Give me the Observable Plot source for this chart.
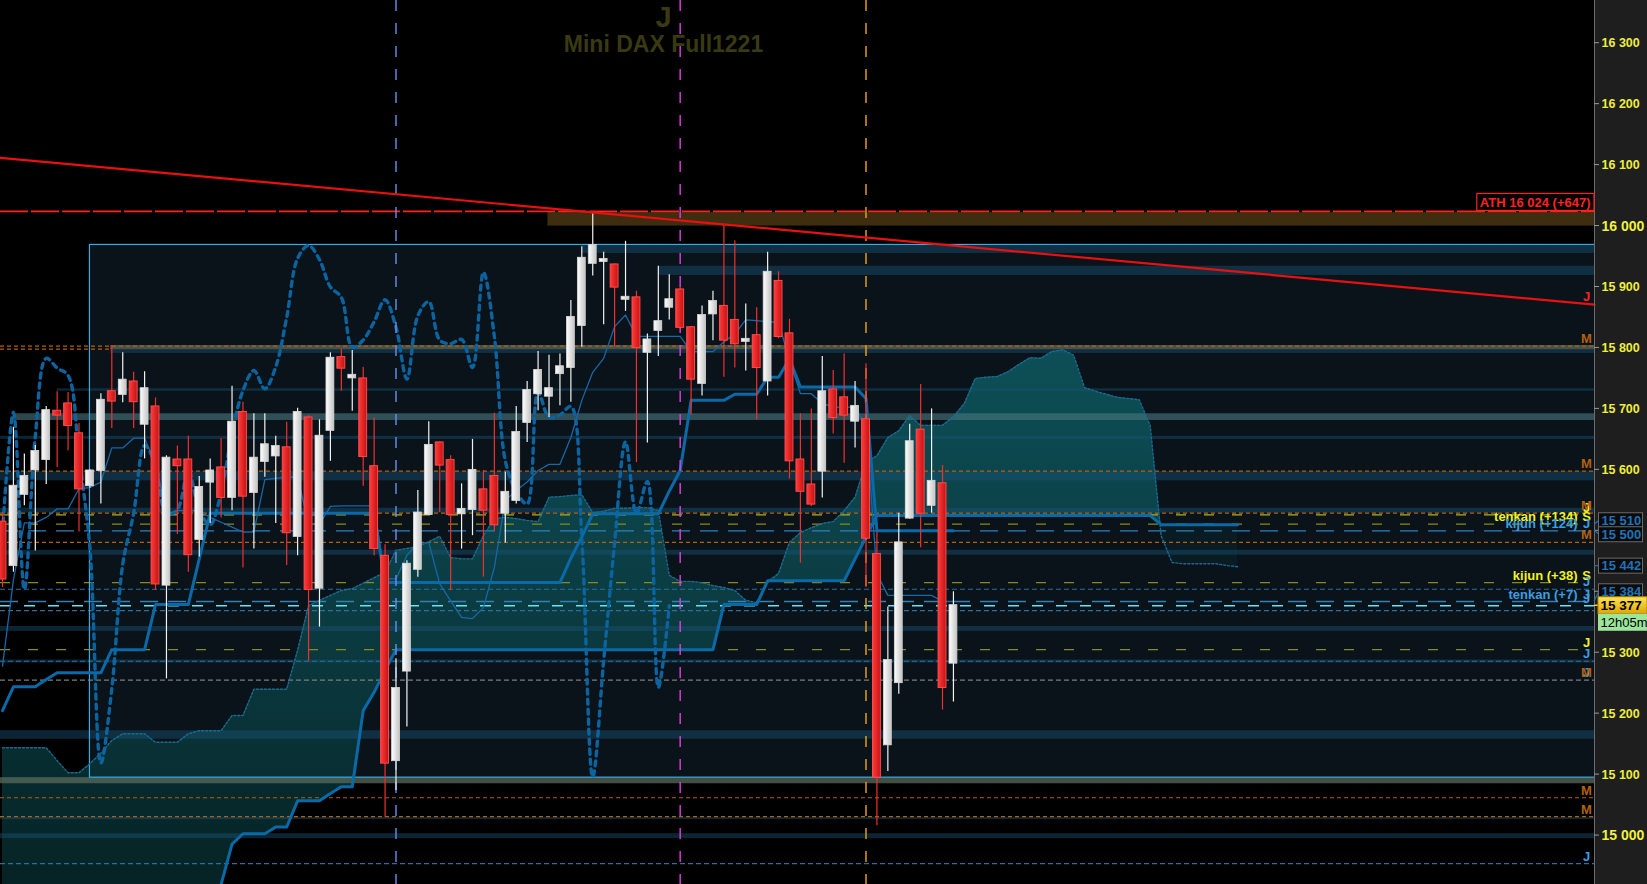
<!DOCTYPE html>
<html><head><meta charset="utf-8">
<script src="https://cdn.jsdelivr.net/npm/d3@7"></script>
<script src="https://cdn.jsdelivr.net/npm/@observablehq/plot@0.6"></script>
<style>
html,body{margin:0;padding:0;background:#000;overflow:hidden}
#chart{width:1647px;height:884px}
</style></head><body><div id="chart"></div>
<script>
// ---------- data ----------
const opens = [15514,15443,15560,15600,15617,15696,15708,15659,15574,15599,
 15728,15724,15744,15675,15703,15411,15616,15616,15486,15580,
 15603,15555,15694,15563,15614,15623,15636,15491,15685,15406,
 15665,15784,15751,15749,15605,15458,15123,15270,15437,15527,
 15644,15615,15528,15535,15567,15589,15529,15550,15678,15725,
 15721,15758,15768,15837,15939,15942,15936,15880,15882,15793,
 15829,15867,15895,15833,15742,15856,15868,15845,15811,15820,
 15746,15909,15823,15616,15575,15598,15731,15718,15680,15682,
 15461,15149,15251,15521,15665,15542,15577,15283];
const highs = [15530,15670,15626,15640,15704,15728,15727,15676,15600,15725,
 15804,15792,15760,15761,15718,15623,15639,15655,15589,15618,
 15651,15737,15711,15692,15692,15655,15678,15701,15689,15682,
 15792,15798,15796,15768,15685,15477,15290,15451,15566,15679,
 15646,15623,15577,15650,15599,15693,15596,15704,15745,15794,
 15788,15790,15878,15966,16020,15957,15938,15975,15893,15823,
 15934,15920,15900,15835,15869,15893,16001,15976,15872,15866,
 15957,15925,15847,15692,15700,15786,15763,15790,15745,15774,
 15498,15375,15529,15675,15740,15700,15607,15400];
const lows = [15407,15432,15541,15467,15576,15604,15631,15498,15570,15544,
 15668,15710,15668,15618,15402,15257,15494,15432,15457,15512,
 15521,15533,15439,15470,15588,15512,15443,15459,15286,15342,
 15614,15729,15696,15573,15459,15030,15074,15178,15424,15525,
 15530,15402,15470,15492,15424,15498,15480,15544,15645,15697,
 15686,15705,15711,15801,15918,15838,15801,15860,15612,15644,
 15786,15846,15831,15689,15721,15812,15752,15767,15762,15682,
 15721,15815,15585,15447,15540,15554,15659,15611,15636,15407,
 15016,15105,15232,15519,15472,15529,15206,15219];
const closes = [15421,15573,15589,15630,15697,15690,15673,15569,15598,15714,
 15713,15747,15712,15733,15413,15619,15607,15461,15571,15598,
 15555,15678,15557,15619,15641,15638,15497,15694,15404,15655,
 15783,15767,15755,15622,15471,15119,15241,15445,15529,15640,
 15608,15527,15535,15599,15534,15510,15563,15661,15730,15763,
 15733,15769,15850,15947,15968,15945,15900,15883,15801,15813,
 15843,15879,15834,15749,15853,15876,15813,15807,15814,15768,
 15924,15819,15615,15565,15544,15728,15686,15690,15704,15488,
 15096,15287,15480,15646,15529,15581,15243,15377];
const tenkan = [15278,15420,15513,15513,15522,15536,15536,15569,15571,15580,
 15636,15636,15652,15652,15610,15528,15533,15533,15533,15522,
 15514,15506,15498,15498,15584,15586,15588,15588,15511,15511,
 15540,15541,15541,15541,15541,15421,15421,15460,15479,15481,
 15413,15385,15358,15356,15374,15440,15550,15566,15580,15599,
 15609,15609,15653,15714,15760,15783,15835,15854,15819,15819,
 15819,15819,15819,15794,15794,15794,15810,15823,15846,15845,
 15843,15842,15780,15725,15725,15709,15703,15703,15703,15673,
 15430,15394,15394,15394,15394,15394,15384,15384];
const kijun = [15205,15244,15244,15244,15256,15267,15267,15267,15267,15267,
 15305,15305,15305,15305,15379,15379,15379,15379,15454,15529,
 15529,15529,15529,15529,15529,15529,15529,15529,15529,15529,
 15529,15529,15529,15529,15529,15415,15415,15415,15415,15415,
 15415,15415,15415,15415,15415,15415,15415,15415,15415,15415,
 15415,15415,15455,15490,15528,15528,15528,15528,15528,15528,
 15528,15565,15599,15714,15714,15714,15714,15724,15724,15724,
 15752,15752,15782,15736,15736,15736,15736,15736,15736,15717,
 15500,15500,15500,15500,15500,15500,15500,15500];
const senkouA = [15144,15144,15144,15144,15144,15123,15103,15103,15118,15135,
 15156,15167,15167,15167,15153,15153,15153,15167,15172,15172,
 15172,15197,15197,15240,15240,15240,15240,15304,15377,15386,
 15394,15402,15405,15414,15423,15432,15468,15471,15474,15482,
 15491,15456,15454,15454,15492,15520,15522,15520,15517,15515,
 15555,15556,15558,15559,15530,15532,15537,15537,15538,15538,
 15533,15427,15417,15417,15415,15410,15407,15402,15386,15382,
 15415,15430,15481,15497,15505,15512,15515,15533,15555,15612,
 15623,15653,15664,15689,15673,15673,15673,15687,15709,15750,
 15752,15753,15761,15773,15784,15783,15794,15797,15788,15735,
 15729,15724,15719,15717,15715,15673,15492,15448,15446,15446,
 15446,15446,15443,15441];
const senkouB = [14870,14870,14870,14870,14870,14870,14870,14870,14870,14870,
 14870,14870,14870,14870,14870,14870,14870,14870,14880,14900,
 14920,14986,15003,15003,15003,15014,15014,15057,15057,15057,
 15069,15080,15080,15205,15235,15271,15305,15305,15305,15305,
 15305,15305,15305,15305,15305,15305,15305,15305,15305,15305,
 15305,15305,15305,15305,15305,15305,15305,15305,15305,15305,
 15305,15305,15305,15305,15305,15305,15379,15379,15379,15379,
 15418,15418,15418,15418,15418,15418,15418,15418,15454,15490,
 15525,15525,15525,15525,15525,15525,15525,15525,15525,15525,
 15525,15525,15525,15525,15525,15525,15525,15525,15525,15525,
 15525,15525,15525,15525,15525,15525,15510,15510,15510,15510,
 15510,15510,15510,15510];
const yTicks = [15000,15100,15200,15300,15400,15500,15600,15700,15800,15900,16000,16100,16200,16300];
const majorTicks = [15000,16000];
// zones
const boxRange = [15095, 15969];
const boxStart = 8;
const athZone = [16000, 16022];
const athZoneStart = 49.9;
const bandLo   = [15955,15919,15797,15791,15729,15681,15650,15582,15529,15460,15335,15283,15158,15085,15026,14995];
const bandHi   = [15968,15934,15804,15797,15733,15692,15655,15597,15537,15468,15343,15288,15172,15095,15030,15003];
const bandFrom = [53,60,9.9,9.9,5,1,-1,-1,-1,-1,-1,-1,-1,-1,-1,-1];
const bandKind = ["steel","steel","grey","steel","steel","light","steel","steel","steel","steel","steel","steel","steel","grey","steel","steel"];
// levels
const athLevel = 16024;
const athText = "ATH 16 024 (+647)";
const orangeLevels = [15803,15598,15529,15481,15062,15031];
const orangeLeftLevel = 15798;
const yellowLevels = [15526];
const oliveLevels = [15511,15415,15305];
const blueLongLevels = [15500,15384];
const blueShortLevels = [15404,15369,15286,14954];
const greyLevels = [15255];
const lastPrice = 15377;
const lastTime = "12h05m";
const tagValues = [15510,15500,15442,15384];
const letterP = [15872,15803,15598,15529,15526,15511,15500,15481,15415,15404,15384,15377,15305,15286,15255,15255,15062,15031,14954];
const letterT = ["J","M","M","M","J","S","J","M","S","J","J","J","J","J","M","J","M","M","J"];
const letterK = ["red","m","m","m","y","y","b","m","y","b","b","b","y","b","m","b","m","m","b"];
const nameP = [15511,15500,15415,15384];
const nameT = ["tenkan (+134)","kijun (+124)","kijun (+38)","tenkan (+7)"];
const nameK = ["y","b","y","b"];
const trendI = [-0.183, 145.65];
const trendP = [16112, 15871];
const vLines = [36, 62, 79];
const vKinds = ["blue","magenta","orange"];
const titleTop = "J";
const title = "Mini DAX Full1221";

// ---------- build ----------
const XMIN = -0.183, XMAX = 145.65;
const candles = opens.map((o, i) => ({i, o, h: highs[i], l: lows[i], c: closes[i]}));
const ups = candles.filter(d => d.c >= d.o), downs = candles.filter(d => d.c < d.o);
const chikou = closes.slice(26).map((c, j) => ({i: j, v: c}));
const cloud = senkouA.map((a, i) => ({i, a, b: senkouB[i]}));
const bands = bandLo.map((lo, k) => ({lo, hi: bandHi[k], from: bandFrom[k], kind: bandKind[k]}));
const letters = letterP.map((p, k) => ({p, t: letterT[k], k: letterK[k]}));
const names = nameP.map((p, k) => ({p, t: nameT[k], k: nameK[k]}));
const trend = trendI.map((i, k) => ({i, p: trendP[k]}));
const kcol = {y: "#f2f21e", b: "#3a9fe0", m: "#b5600c", red: "#ff2020"};
const vcol = {blue: "#6a90f0", magenta: "#e040e0", orange: "#f0a818"};
const fmt = d => `${Math.floor(d / 1000)} ${String(d % 1000).padStart(3, "0")}`;
const FONT = "'Liberation Sans', Arial, sans-serif";

const bandFill = {steel: "#1a5274", grey: "#5a6a5c", light: "#4a7880"};
const bandOp = {steel: 0.45, grey: 0.75, light: 0.6};

const plot = Plot.plot({
  width: 1647, height: 884,
  marginTop: 0, marginBottom: 0, marginLeft: 0, marginRight: 53,
  x: {domain: [XMIN, XMAX], axis: null},
  y: {domain: [14919.7, 16370.06], axis: null},
  style: {background: "#000", fontFamily: FONT},
  marks: [
    // boxed background
    Plot.rect([0], {x1: boxStart, x2: XMAX, y1: boxRange[0], y2: boxRange[1], fill: "#0a131a"}),
    // cloud
    Plot.areaY(cloud, {x: "i", y1: "b", y2: d => Math.max(d.a, d.b), fill: "url(#gc)", fillOpacity: 0.8, clip: true}),
    Plot.areaY(cloud, {x: "i", y1: "a", y2: d => Math.max(d.a, d.b), fill: "rgb(12,110,118)", fillOpacity: 0.1, clip: true}),
    // horizontal bands
    ...["steel", "grey", "light"].map(k => Plot.rect(bands.filter(d => d.kind === k), {
      x1: "from", x2: XMAX, y1: "lo", y2: "hi", fill: bandFill[k], fillOpacity: bandOp[k], clip: true})),
    Plot.rect([0], {x1: athZoneStart, x2: XMAX, y1: athZone[0], y2: athZone[1], fill: "#3f2d0f"}),
    // dashed levels
    Plot.ruleY(orangeLevels, {stroke: "#b5600c", strokeDasharray: "4,3", strokeWidth: 1.2}),
    Plot.ruleY([orangeLeftLevel], {x1: XMIN, x2: 9.9, stroke: "#b5600c", strokeDasharray: "4,3", strokeWidth: 1.2}),
    Plot.ruleY(yellowLevels, {stroke: "#b0b01a", strokeDasharray: "10,18", strokeWidth: 1.3}),
    Plot.ruleY(oliveLevels, {stroke: "#8a8a18", strokeDasharray: "10,18", strokeWidth: 1.3}),
    Plot.ruleY(blueLongLevels, {stroke: "#2f80bb", strokeDasharray: "18,10", strokeWidth: 1.3}),
    Plot.ruleY(blueShortLevels, {stroke: "#2a6f9e", strokeDasharray: "5,3", strokeWidth: 1.1}),
    Plot.ruleY(greyLevels, {stroke: "#7c7c7c", strokeDasharray: "5,3", strokeWidth: 1.1}),
    Plot.ruleY([lastPrice], {stroke: "#62e6f5", strokeDasharray: "11,13", strokeWidth: 1.6}),
    Plot.ruleY([athLevel], {stroke: "#ff2020", strokeDasharray: "28,3", strokeWidth: 1.6}),
    // box outline (right side clipped away at the frame edge)
    Plot.rect([0], {x1: boxStart, x2: XMAX + 1, y1: boxRange[0], y2: boxRange[1], fill: "none", stroke: "#3aaae0", strokeWidth: 1.2, clip: true}),
    // ichimoku lines
    Plot.line(cloud, {x: "i", y: "a", stroke: "#1a6a90", strokeWidth: 1.4, strokeDasharray: "2,2", clip: true}),
    Plot.line(cloud, {x: "i", y: "b", stroke: "#0a6aa8", strokeWidth: 3, clip: true}),
    Plot.line(chikou, {x: "i", y: "v", stroke: "#0b64a0", strokeWidth: 3.4, strokeDasharray: "5,5", curve: "catmull-rom", clip: true}),
    Plot.line(tenkan.map((v, i) => ({i, v})), {x: "i", y: "v", stroke: "#1668a6", strokeWidth: 1.3, clip: true}),
    Plot.line(kijun.map((v, i) => ({i, v})), {x: "i", y: "v", stroke: "#0a6aa8", strokeWidth: 3, clip: true}),
    // vertical dashed markers
    ...vLines.map((v, k) => Plot.ruleX([v], {stroke: vcol[vKinds[k]], strokeDasharray: "11,12", strokeWidth: 1.4})),
    // candles
    Plot.ruleX(ups, {x: "i", y1: "l", y2: "h", stroke: "#f2f2f2", strokeWidth: 1.2}),
    Plot.ruleX(downs, {x: "i", y1: "l", y2: "h", stroke: "#f03030", strokeWidth: 1.2}),
    Plot.rect(ups, {x1: d => d.i - 0.36, x2: d => d.i + 0.36, y1: "o", y2: "c", fill: "url(#gw)", stroke: "#d8d8d8", strokeWidth: 0.8, insetTop: -0.6, insetBottom: -0.6}),
    Plot.rect(downs, {x1: d => d.i - 0.36, x2: d => d.i + 0.36, y1: "o", y2: "c", fill: "url(#gr)", stroke: "#ff4a4a", strokeWidth: 1, insetTop: -0.6, insetBottom: -0.6}),
    // trend line
    Plot.line(trend, {x: "i", y: "p", stroke: "#e81010", strokeWidth: 2.2}),
    // right-edge labels
    ...Object.keys(kcol).map(k => Plot.text(letters.filter(d => d.k === k), {
      y: "p", text: "t", frameAnchor: "right", dx: -8, textAnchor: "middle", lineAnchor: "bottom", dy: -3,
      fill: kcol[k], fontWeight: "bold", fontSize: 13})),
    ...["y", "b"].map(k => Plot.text(names.filter(d => d.k === k), {
      y: "p", text: "t", frameAnchor: "right", dx: -17, textAnchor: "end", lineAnchor: "bottom", dy: -3,
      fill: kcol[k], fontWeight: "bold", fontSize: 13})),
    // price axis labels
    Plot.text(yTicks.filter(d => !majorTicks.includes(d)), {y: d => d, text: fmt, frameAnchor: "right", dx: 7, textAnchor: "start",
      fill: "#eeee3a", fontWeight: "bold", fontSize: 12.5}),
    Plot.text(majorTicks, {y: d => d, text: fmt, frameAnchor: "right", dx: 7, textAnchor: "start",
      fill: "#f2f23a", fontWeight: "bold", fontSize: 14}),
    // title
    Plot.text([titleTop], {text: d => d, frameAnchor: "top-left", dx: 663, dy: 17, textAnchor: "middle", lineAnchor: "middle", fill: "#3a3a12", fontWeight: "bold", fontSize: 29}),
    Plot.text([title], {text: d => d, frameAnchor: "top-left", dx: 663, dy: 44, textAnchor: "middle", lineAnchor: "middle", fill: "#3a3a12", fontWeight: "bold", fontSize: 23})
  ]
});

document.getElementById("chart").append(plot);
const svg = d3.select(plot);
const defs = svg.insert("defs", ":first-child");
function grad(id, c0, c1, vertical) {
  const g = defs.append("linearGradient").attr("id", id)
    .attr("x1", 0).attr("y1", 0).attr("x2", vertical ? 0 : 1).attr("y2", vertical ? 1 : 0);
  g.append("stop").attr("offset", 0).attr("stop-color", c0);
  g.append("stop").attr("offset", 1).attr("stop-color", c1);
  return g;
}
grad("gw", "#ffffff", "#c4c4c4");
grad("gr", "#ff3c3c", "#c41212");
grad("gold", "#ffe55a", "#e2a400", true);
// cloud: lighter near the top of the chart, darker near the bottom
const gc = defs.append("linearGradient").attr("id", "gc").attr("gradientUnits", "userSpaceOnUse")
  .attr("x1", 0).attr("x2", 0).attr("y1", 330).attr("y2", 884);
gc.append("stop").attr("offset", 0).attr("stop-color", "rgb(14,96,104)");
gc.append("stop").attr("offset", 1).attr("stop-color", "rgb(7,44,46)");

// axis panel (behind marks)
const firstG = plot.querySelector("g");
const panel = document.createElementNS("http://www.w3.org/2000/svg", "rect");
d3.select(panel).attr("x", 1594).attr("y", 0).attr("width", 53).attr("height", 884).attr("fill", "#1e1e1e");
plot.insertBefore(panel, firstG);

const Y = v => plot.scale("y").apply(v);
const ov = svg.append("g").attr("font-family", FONT).attr("text-anchor", "start");
ov.append("line").attr("x1", 1594.5).attr("x2", 1594.5).attr("y1", 0).attr("y2", 884).attr("stroke", "#6c6c6c");
yTicks.forEach(t => ov.append("line").attr("x1", 1594).attr("x2", 1599).attr("y1", Y(t)).attr("y2", Y(t)).attr("stroke", "#9a9a9a"));

// ATH label box
const athY = Y(athLevel);
const athT = ov.append("text").attr("x", 1590.5).attr("y", athY - 8).attr("dy", "0.35em").attr("text-anchor", "end")
  .attr("fill", "#ff2222").attr("font-weight", "bold").attr("font-size", 13).text(athText);
const bb = athT.node().getBBox();
ov.insert("rect", "text").attr("x", bb.x - 3).attr("y", athY - 17.5).attr("width", 1594 - (bb.x - 3)).attr("height", 17)
  .attr("fill", "#000").attr("stroke", "#ff2020").attr("stroke-width", 1.2);

// price tags with simple de-overlap
const tags = tagValues.map(v => ({v, y: Y(v), fixed: false})).concat([{v: lastPrice, y: Y(lastPrice), fixed: true}]);
for (let it = 0; it < 40; it++) {
  tags.sort((a, b) => a.y - b.y);
  for (let k = 1; k < tags.length; k++) {
    const a = tags[k - 1], b = tags[k], gap = 14 - (b.y - a.y);
    if (gap > 0) {
      if (a.fixed) b.y += gap; else if (b.fixed) a.y -= gap; else { a.y -= gap / 2; b.y += gap / 2; }
    }
  }
}
tags.filter(t => !t.fixed).forEach(t => {
  ov.append("line").attr("x1", 1594).attr("x2", 1599).attr("y1", Y(t.v)).attr("y2", t.y).attr("stroke", "#1f72b8").attr("stroke-width", 1.2);
  ov.append("rect").attr("x", 1598.5).attr("y", t.y - 7.5).attr("width", 44).attr("height", 15)
    .attr("fill", "#0b0b0b").attr("stroke", "#6a6a6a");
  ov.append("text").attr("x", 1601.5).attr("y", t.y).attr("dy", "0.36em").attr("fill", "#1f72b8")
    .attr("font-weight", "bold").attr("font-size", 13).text(fmt(t.v));
});
const ly = Y(lastPrice);
ov.append("line").attr("x1", 1594).attr("x2", 1599).attr("y1", ly).attr("y2", ly).attr("stroke", "#ffd21a").attr("stroke-width", 1.5);
ov.append("rect").attr("x", 1598).attr("y", ly - 8.5).attr("width", 49).attr("height", 17).attr("fill", "url(#gold)").attr("stroke", "#b58a00");
ov.append("text").attr("x", 1600.5).attr("y", ly).attr("dy", "0.36em").attr("fill", "#000")
  .attr("font-weight", "bold").attr("font-size", 13.5).text(fmt(lastPrice));
ov.append("rect").attr("x", 1598).attr("y", ly + 8.5).attr("width", 49).attr("height", 17).attr("fill", "#9be69b");
ov.append("text").attr("x", 1600.5).attr("y", ly + 17).attr("dy", "0.36em").attr("fill", "#000")
  .attr("font-size", 13).text(lastTime);
</script>
</body></html>
